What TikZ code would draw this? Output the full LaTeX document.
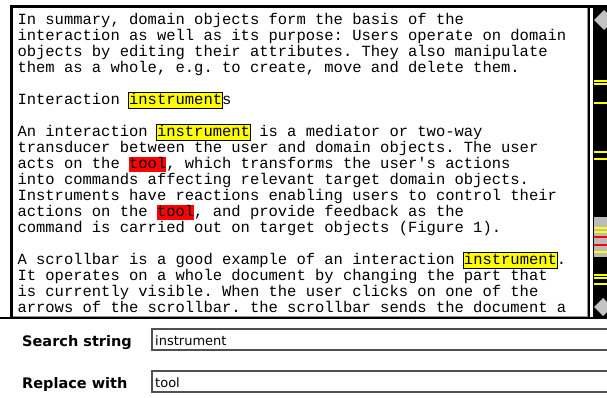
\documentclass[tikz,border=0pt]{standalone}
\usepackage{xcolor}
\usepackage{fontspec}
\setmonofont{Liberation Mono}
\newfontfamily\labelfont{DejaVu Sans}
\usetikzlibrary{positioning}

\definecolor{hityellow}{RGB}{255,255,0}
\definecolor{hitred}{RGB}{255,0,0}
\definecolor{viewgray}{RGB}{187,187,187}
\definecolor{arrowgray}{RGB}{196,196,196}
\definecolor{fieldgray}{RGB}{80,80,80}
\definecolor{shadegray}{RGB}{150,150,150}

\newcommand{\doctext}{\ttfamily\fontsize{15.5}{16}\selectfont\frenchspacing}
\newcommand{\fieldfont}{\labelfont\fontsize{13}{15}\selectfont}
\newcommand{\hitstrut}{\rule[-3pt]{0pt}{14.7pt}}
% found words: yellow with a frame, replacements: red
\newcommand{\hitY}[1]{{\setlength{\fboxsep}{0pt}\setlength{\fboxrule}{0.8pt}%
  \hspace*{-0.8pt}\fcolorbox{black}{hityellow}{\hitstrut#1}\hspace*{-0.8pt}}}
\newcommand{\hitR}[1]{{\setlength{\fboxsep}{0pt}%
  \colorbox{hitred}{\rule[-3.5pt]{0pt}{15.5pt}#1}}}

\begin{document}
\begin{tikzpicture}[
  x=1pt, y=-1pt,
  doc line/.style={anchor=base west, inner sep=0pt, font=\doctext},
  field label/.style={anchor=base west, inner sep=0pt, font=\labelfont\bfseries\fontsize{14.5}{16}\selectfont},
  field text/.style={anchor=base west, inner sep=0pt, font=\fieldfont},
  field line/.style={draw=fieldgray, line width=1.3pt},
  hit mark/.style={line width=1.3pt},
  scroll arrow/.style={fill=arrowgray}
]
\useasboundingbox[fill=white] (0,0) rectangle (607,398);

% text view frame
\draw[line width=3pt] (11.5,318) -- (11.5,6.5) -- (607,6.5);
\draw[shadegray, line width=0.8pt] (13,316) -- (587,316) -- (587,8);
\draw[line width=2pt] (589,8) -- (589,318);
\draw[line width=2pt] (0,318.3) -- (607,318.3);

% scrollbar with hit marks
\fill[black] (592.5,8) rectangle (607,317.3);
\fill[viewgray] (594,217) rectangle (607,257);
\foreach \y in {81,84,103,152,159,228,232,252,275,278,284}
  \draw[hit mark, hityellow] (594,\y) -- (607,\y);
\foreach \y in {237,245}
  \draw[hit mark, hitred] (594,\y) -- (607,\y);
\fill[scroll arrow] (594,20) -- (604,10) -- (607,13) -- (607,27) -- (604,30) -- cycle;
\fill[scroll arrow] (594,307) -- (603,298) -- (607,302) -- (607,312) -- (603,316) -- cycle;

% document text
\foreach \txt [count=\k from 0] in {
  {In summary, domain objects form the basis of the},
  {interaction as well as its purpose: Users operate on domain},
  {objects by editing their attributes. They also manipulate},
  {them as a whole, e.g. to create, move and delete them.},
  {},
  {Interaction \hitY{instrument}s},
  {},
  {An interaction \hitY{instrument} is a mediator or two-way},
  {transducer between the user and domain objects. The user},
  {acts on the \hitR{tool}, which transforms the user's actions},
  {into commands affecting relevant target domain objects.},
  {Instruments have reactions enabling users to control their},
  {actions on the \hitR{tool}, and provide feedback as the},
  {command is carried out on target objects (Figure 1).},
  {},
  {A scrollbar is a good example of an interaction \hitY{instrument}.},
  {It operates on a whole document by changing the part that},
  {is currently visible. When the user clicks on one of the},
  {arrows of the scrollbar. the scrollbar sends the document a}
}{
  \node[doc line] (line\k) at (17.3, 24.8+16*\k) {\txt};
}

% search and replace fields
\draw[field line] (607,329) -- (152,329) -- (152,350) -- (607,350);
\draw[field line] (607,371) -- (152,371) -- (152,392) -- (607,392);
\node[field label] (searchlbl) at (22,346) {Search string};
\node[field text] (searchtxt) at (155,345) {instrument};
\node[field label] (replacelbl) at (22,388) {Replace with};
\node[field text] (replacetxt) at (155,387.5) {tool};
\end{tikzpicture}
\end{document}
